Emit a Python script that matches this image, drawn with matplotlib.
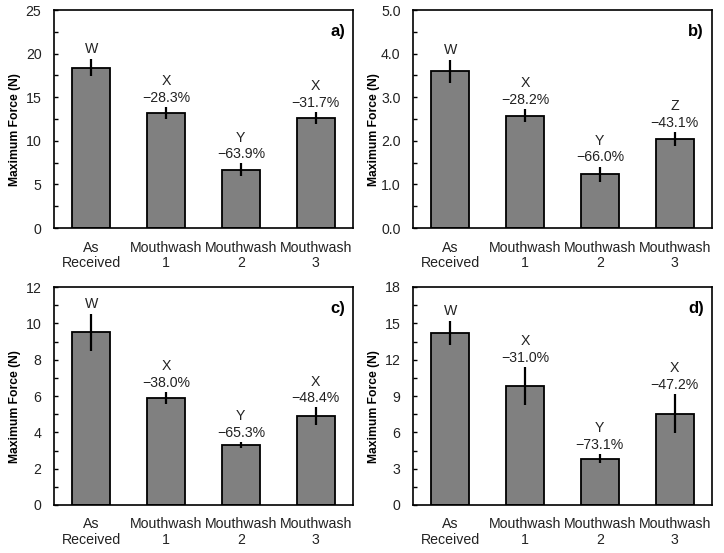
import matplotlib.pyplot as plt
from matplotlib.ticker import MultipleLocator, FormatStrFormatter

plt.rcParams['font.family'] = ['Liberation Sans', 'DejaVu Sans']

categories = ['As\nReceived', 'Mouthwash\n1', 'Mouthwash\n2', 'Mouthwash\n3']

force_a = [18.4, 13.2, 6.7, 12.6]
err_a = [0.95, 0.7, 0.7, 0.7]
letters_a = ['W', 'X', 'Y', 'X']
pct_a = ['', '\u221228.3%', '\u221263.9%', '\u221231.7%']

force_b = [3.59, 2.58, 1.23, 2.04]
err_b = [0.26, 0.15, 0.18, 0.17]
letters_b = ['W', 'X', 'Y', 'Z']
pct_b = ['', '\u221228.2%', '\u221266.0%', '\u221243.1%']

force_c = [9.5, 5.9, 3.3, 4.9]
err_c = [1.0, 0.34, 0.18, 0.47]
letters_c = ['W', 'X', 'Y', 'X']
pct_c = ['', '\u221238.0%', '\u221265.3%', '\u221248.4%']

force_d = [14.2, 9.84, 3.83, 7.55]
err_d = [0.97, 1.55, 0.38, 1.6]
letters_d = ['W', 'X', 'Y', 'X']
pct_d = ['', '\u221231.0%', '\u221273.1%', '\u221247.2%']

panels = [
    ('a)', force_a, err_a, letters_a, pct_a, 25, 5, '%d'),
    ('b)', force_b, err_b, letters_b, pct_b, 5, 1, '%.1f'),
    ('c)', force_c, err_c, letters_c, pct_c, 12, 2, '%d'),
    ('d)', force_d, err_d, letters_d, pct_d, 18, 3, '%d'),
]

fig = plt.figure(figsize=(7.24, 5.53), dpi=100)
W, H = 724, 553
boxes = [(54, 10, 353, 228), (413, 10, 712, 228),
         (54, 287, 353, 505), (413, 287, 712, 505)]

for (label, vals, errs, letters, pcts, ymax, step, fmt), box in zip(panels, boxes):
    x0, y0, x1, y1 = box
    ax = fig.add_axes([x0 / W, 1 - y1 / H, (x1 - x0) / W, (y1 - y0) / H])
    xs = range(len(categories))
    ax.bar(xs, vals, width=0.51, color='#808080', edgecolor='black',
           linewidth=1.3, zorder=2)
    ax.errorbar(xs, vals, yerr=errs, fmt='none', ecolor='black',
                elinewidth=1.6, capsize=0, zorder=3)
    for i in xs:
        top = vals[i] + errs[i]
        if pcts[i]:
            ax.annotate(pcts[i], (i, top), xytext=(0, 6.5), textcoords='offset points',
                        ha='center', va='center', fontsize=10.2, color='#222222')
            ax.annotate(letters[i], (i, top), xytext=(0, 18.5), textcoords='offset points',
                        ha='center', va='center', fontsize=10.2, color='#222222')
        else:
            ax.annotate(letters[i], (i, top), xytext=(0, 7.5), textcoords='offset points',
                        ha='center', va='center', fontsize=10.2, color='#222222')
    ax.set_xlim(-0.5, 3.5)
    ax.set_ylim(0, ymax)
    ax.yaxis.set_major_locator(MultipleLocator(step))
    ax.yaxis.set_minor_locator(MultipleLocator(step / 2))
    ax.yaxis.set_major_formatter(FormatStrFormatter(fmt))
    ax.set_xticks(list(xs))
    ax.set_xticklabels(categories, fontsize=10.2, color='#222222', linespacing=1.1)
    ax.tick_params(axis='x', length=0, pad=9)
    ax.tick_params(axis='y', which='both', direction='in', length=3, width=1,
                   labelsize=10.2, labelcolor='#222222', pad=9)
    ax.set_ylabel('Maximum Force (N)', fontsize=8.7, fontweight='bold')
    ax.yaxis.set_label_coords(-0.11, 0.45)
    for s in ax.spines.values():
        s.set_linewidth(1.2)
    ax.text(0.973, 0.9, label, transform=ax.transAxes, ha='right', va='center',
            fontsize=12, fontweight='bold')

fig.savefig('out.png', dpi=100)
